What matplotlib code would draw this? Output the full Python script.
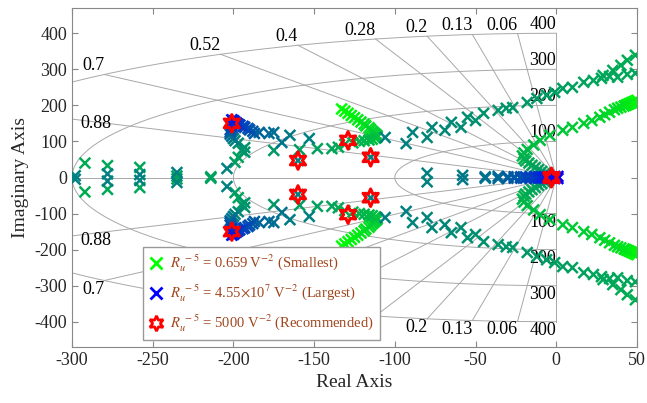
import numpy as np
import matplotlib.pyplot as plt
from matplotlib.lines import Line2D

plt.rcParams['font.family'] = ['Liberation Serif', 'DejaVu Serif']
plt.rcParams['mathtext.fontset'] = 'stix'
plt.rcParams['font.size'] = 13
plt.rcParams['axes.unicode_minus'] = False
plt.rcParams['xtick.direction'] = 'in'
plt.rcParams['ytick.direction'] = 'in'

# s-plane grid
zeta_values = [0.06, 0.13, 0.2, 0.28, 0.4, 0.52, 0.7, 0.88]
wn_values = [100, 200, 300, 400]
# lower-half damping labels that sit behind the legend
zeta_hidden_below = [0.28, 0.4, 0.52]

# pole branches in the upper half plane (lower half = conjugates)
fan_re = [-133, -131, -129, -127, -125, -123, -121, -119, -118, -116, -115,
          -114, -113, -112, -111, -111, -112, -114, -116, -119, -122]
fan_im = [190, 184, 178, 172, 166, 160, 154, 148, 143, 138, 133,
          128, 124, 120, 116, 112, 109, 106, 104, 102, 100]

band_re = [-126, -131, -135, -139, -148, -159, -175, -193]
band_im = [96, 92, 84, 80, 80, 77, 75, 70]

rise_re = [-197, -195, -193, -197, -199, -200, -201, -202, -202, -202, -201, -201, -200, -200]
rise_im = [56, 75, 83, 95, 102, 108, 114, 120, 126, 132, 138, 144, 150, 155]

streak_re = [-153, -165, -170, -175, -178, -184, -187, -188, -190, -191, -193,
             -194, -196, -197, -198, -199, -200, -200, -201]
streak_im = [108, 117, 97, 125, 122, 125, 122, 128, 132, 136, 139,
             142, 145, 148, 151, 154, 156, 158, 160]

left_teal_re = [-298, -278, -258, -235, -204, -160, -115]
left_teal_im = [5, 10, 8, 14, 25, 47, 56]

left_green_re = [-292, -278, -258, -235, -214, -199]
left_green_im = [40, 33, 28, 4, 2, 42]

real_re = [-80, -58, -44, -36, -30, -26, -22, -19, -16, -13, -11, -9, -7, -5, -3, -1, 1]
real_im = [12, 6, 2, 3, 2, 2, 2, 2, 2, 2, 2, 2, 2, 2, 2, 3, 3]

loop_re = [50, 49, 48, 47, 46, 45, 44, 43, 42, 40, 38, 36, 33, 30, 27, 22, 17,
           10, 4, -4, -10, -14, -18, -20, -21, -20, -19, -17, -15, -13, -11, -9, -7, -5]
loop_im = [214, 212, 210, 208, 206, 204, 202, 200, 198, 195, 192, 188, 181, 174,
           167, 158, 150, 139, 131, 117, 103, 90, 78, 68, 60, 52, 46, 40, 34, 28,
           22, 17, 12, 8]

upper_re = [-106, -93, -89, -80, -77, -69, -65, -59, -55, -50, -45, -36, -31, -27,
            -18, -12, -6, -1, 4, 10, 17, 23, 29, 35, 40, 44, 49]
upper_im = [111, 94, 125, 111, 139, 131, 153, 139, 167, 158, 178, 186, 192, 194,
            208, 219, 228, 236, 247, 250, 264, 269, 283, 297, 311, 325, 339]

sub_re = [28, 33, 38, 44, 49]
sub_im = [275, 280, 278, 286, 289]

rec_re = [-201, -160, -129, -115, -3]
rec_im = [150, 47, 103, 56, 2]

# sweep position (0 = smallest R, 1 = largest R) at both ends of each branch
branches = [
    (fan_re, fan_im, 0.0, 0.3),
    (band_re, band_im, 0.3, 0.42),
    (rise_re, rise_im, 0.35, 0.8),
    (streak_re, streak_im, 0.5, 0.9),
    (left_teal_re, left_teal_im, 0.5, 0.5),
    (left_green_re, left_green_im, 0.33, 0.38),
    (real_re, real_im, 0.5, 1.0),
    (loop_re, loop_im, 0.0, 0.4),
    (upper_re, upper_im, 0.5, 0.32),
    (sub_re, sub_im, 0.35, 0.35),
]


def sweep_color(t):
    return (0.0, 1.0 - t, t)


fig = plt.figure(figsize=(6.47, 4.03), dpi=100)
ax = fig.add_axes([72 / 647, 1 - 347 / 403, 565 / 647, 339 / 403])
ax.set_xlim(-300, 50)
ax.set_ylim(-470, 470)

# damping / natural frequency grid
gc = '#a8a8a8'
glw = 0.7
th = np.linspace(np.pi / 2, 3 * np.pi / 2, 200)
for wn in wn_values:
    ax.plot(wn * np.cos(th), wn * np.sin(th), color=gc, lw=glw, zorder=1)
    ax.text(0, wn, str(wn), ha='right', va='bottom', fontsize=13, zorder=2)
    ax.text(0, -wn, str(wn), ha='right', va='top', fontsize=13, zorder=2)
ax.plot([-400, 0], [0, 0], color=gc, lw=glw, zorder=1)
ax.plot([0, 0], [-400, 400], color=gc, lw=glw, zorder=1)
rmax = max(wn_values)
for z in zeta_values:
    s = np.sqrt(1 - z ** 2)
    xe, ye = -rmax * z, rmax * s
    ax.plot([0, xe], [0, ye], color=gc, lw=glw, zorder=1)
    ax.plot([0, xe], [0, -ye], color=gc, lw=glw, zorder=1)
    if xe < -300:
        yc = 300 * s / z
        ax.annotate(str(z), (-300, yc), xytext=(6, -3), textcoords='offset points',
                    ha='left', va='center', fontsize=13)
        ax.annotate(str(z), (-300, -yc), xytext=(6, -3), textcoords='offset points',
                    ha='left', va='center', fontsize=13)
    else:
        ax.text(xe, ye, str(z), ha='right', va='bottom', fontsize=13)
        if z not in zeta_hidden_below:
            ax.text(xe, -ye, str(z), ha='right', va='top', fontsize=13)

# poles, drawn from small to large R
pts = []
for re, im, t0, t1 in branches:
    ts = np.linspace(t0, t1, len(re))
    for x, y, t in zip(re, im, ts):
        pts.append((t, x, y))
        pts.append((t, x, -y))
pts.sort(key=lambda p: p[0])
ax.scatter([p[1] for p in pts], [p[2] for p in pts], marker='x', s=60,
           c=[sweep_color(p[0]) for p in pts], linewidths=1.8, zorder=3)

hexagram = (6, 1, 0)
rec_x = rec_re + rec_re
rec_y = rec_im + [-v for v in rec_im]
ax.scatter(rec_x, rec_y, marker=hexagram, s=160, facecolors='none',
           edgecolors='red', linewidths=2.2, zorder=4)

ax.set_xticks(np.arange(-300, 51, 50))
ax.set_yticks(np.arange(-400, 401, 100))
ax.tick_params(top=True, right=True, length=4, color='#888888',
               labelcolor='#262626', labelsize=13)
for sp in ax.spines.values():
    sp.set_color('#888888')
ax.set_xlabel('Real Axis', fontsize=14, color='#262626')
ax.set_ylabel('Imaginary Axis', fontsize=14, color='#262626')

handles = [
    Line2D([], [], ls='none', marker='x', color='#00ff00', ms=8, mew=2),
    Line2D([], [], ls='none', marker='x', color='#0000ff', ms=8, mew=2),
    Line2D([], [], ls='none', marker=hexagram, mfc='none', mec='red', ms=11, mew=2),
]
labels = [
    r'$R_u^{\ -5}$ = 0.659 V$^{-2}$ (Smallest)',
    r'$R_u^{\ -5}$ = 4.55$\times$10$^7$ V$^{-2}$ (Largest)',
    r'$R_u^{\ -5}$ = 5000 V$^{-2}$ (Recommended)',
]
leg = ax.legend(handles, labels, loc='lower left', bbox_to_anchor=(0.125, 0.02),
                borderaxespad=0, fancybox=False, edgecolor='#999999',
                framealpha=1, fontsize=10.5, labelcolor='#a0461e',
                handlelength=1.0, handletextpad=0.5, labelspacing=0.6)
leg.set_zorder(5)

fig.savefig('out.png', dpi=100)
